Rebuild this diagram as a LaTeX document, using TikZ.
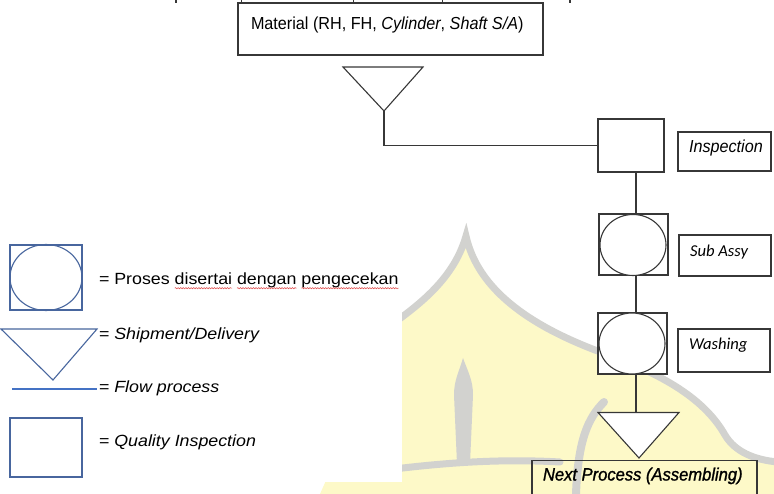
\documentclass[tikz,border=0pt]{standalone}
\usepackage{fontspec}
\setmainfont{Liberation Sans}
\newfontfamily\diagfont[FakeStretch=0.93]{Liberation Sans}
\newfontfamily\diagbold[FakeStretch=0.93,FakeBold=1.2]{Liberation Sans}
\newfontfamily\legfont[FakeStretch=1.1]{Liberation Sans}
\newfontfamily\calfont{Carlito}
\usetikzlibrary{shapes.geometric,decorations.pathmorphing}

\definecolor{wmyellow}{RGB}{253,249,200}
\definecolor{wmgray}{RGB}{210,210,207}
\definecolor{ink}{RGB}{55,55,55}
\definecolor{legblue}{RGB}{72,102,158}
\definecolor{flowblue}{RGB}{68,114,196}
\definecolor{spell}{RGB}{226,86,86}

\tikzset{
  box/.style={draw=ink, line width=1.1pt, fill=white, inner sep=0pt, outer sep=0pt, rectangle},
  openbox/.style={draw=ink, line width=1.1pt, inner sep=0pt, outer sep=0pt, rectangle},
  oval/.style={draw=ink, line width=1.1pt, fill=white, inner sep=0pt, outer sep=0pt, ellipse},
  flow/.style={draw=ink, line width=1.3pt},
  tri/.style={draw=ink, line width=1.1pt, fill=white, line join=miter},
  diagtext/.style={inner sep=0pt, outer sep=0pt, text=black, font=\diagfont\fontsize{17.4}{20}\selectfont},
  caltext/.style={inner sep=0pt, outer sep=0pt, text=black, font=\calfont\itshape\fontsize{16.6}{19}\selectfont},
  legtext/.style={inner sep=0pt, outer sep=0pt, text=black, font=\legfont\fontsize{16.2}{19}\selectfont},
  legbox/.style={draw=legblue, line width=1.1pt, inner sep=0pt, outer sep=0pt, rectangle},
  legoval/.style={draw=legblue, line width=1.1pt, inner sep=0pt, outer sep=0pt, ellipse},
  spellmark/.style={draw=spell, line width=0.6pt, decorate,
    decoration={snake, amplitude=0.6pt, segment length=2.6pt}},
  wmband/.style={draw=wmgray, line width=7pt, line cap=round},
}

\begin{document}
\begin{tikzpicture}[x=1pt,y=-1pt]
\useasboundingbox (0,0) rectangle (774,494);

% faint dome emblem in the background
\fill[wmyellow] (398,318) .. controls (425,300) and (455,275) .. (466,236)
  .. controls (478,290) and (530,325) .. (595,350)
  .. controls (665,374) and (705,400) .. (725,435)
  .. controls (735,452) and (755,460) .. (774,462) -- (774,494) -- (320,494) -- (398,318) -- cycle;
\draw[wmband, line join=miter] (398,320) .. controls (425,300) and (455,275) .. (466,236)
  .. controls (478,290) and (530,325) .. (595,350)
  .. controls (665,374) and (705,400) .. (725,435)
  .. controls (735,452) and (755,460) .. (778,462);
\fill[wmgray] (463,358) .. controls (468,372) and (473,380) .. (473,395) -- (470,464)
  -- (457,464) -- (454,395) .. controls (454,380) and (459,372) .. (463,358) -- cycle;
\draw[wmband] (330,478) .. controls (420,464) and (490,458) .. (560,462);
\draw[wmband, line width=8pt] (604,402) .. controls (588,418) and (578,440) .. (576,494);

% white panel behind the legend
\fill[white] (0,228) rectangle (402,482);

% cut-off marks along the top edge
\draw[ink, line width=0.7pt] (241,0) -- (241,4) (353,0) -- (353,4) (442,0) -- (442,4);
\draw[ink, line width=1.6pt] (176,0) -- (176,3) (570,0) -- (570,3);

% ---------- flow ----------
\node[box, minimum width=305pt, minimum height=52pt] (mat) at (390.5,29) {};
\node[diagtext, anchor=base west] (mattext) at (251,29.3)
  {Material (RH, FH, \textit{Cylinder}, \textit{Shaft S/A})};

\coordinate (t1l) at (343,67);
\coordinate (t1r) at (423,67);
\coordinate (t1tip) at (384,111);
\draw[tri] (t1l) -- (t1r) -- (t1tip) -- cycle;

\node[box, minimum width=66pt, minimum height=53pt] (insp) at (631,145.5) {};
\node[box, minimum width=93pt, minimum height=39pt] (inspL) at (724.5,151.5) {};
\node[diagtext, anchor=base west] (inspT) at (689,152.5) {\itshape Inspection};

\node[box, minimum width=69pt, minimum height=61pt] (sub) at (633.5,244.5) {};
\node[oval, minimum width=66pt, minimum height=61pt] (subO) at (633,245) {};
\node[box, minimum width=92pt, minimum height=41pt] (subL) at (725,255.5) {};
\node[caltext, anchor=base west] (subT) at (690,256.5) {Sub Assy};

\node[box, minimum width=69pt, minimum height=61pt] (wash) at (632.5,343.5) {};
\node[oval, minimum width=66pt, minimum height=61pt] (washO) at (632,343.5) {};
\node[box, minimum width=92pt, minimum height=43pt] (washL) at (724,350.5) {};
\node[caltext, anchor=base west] (washT) at (689,350) {Washing};

\coordinate (t2l) at (598,412.5);
\coordinate (t2r) at (679,412.5);
\coordinate (t2tip) at (639,458);
\draw[tri] (t2l) -- (t2r) -- (t2tip) -- cycle;

\node[openbox, minimum width=225pt, minimum height=60pt] (next) at (644.5,490.5) {};
\node[inner sep=0pt, outer sep=0pt, anchor=base west, font=\diagbold\itshape\fontsize{17.8}{20}\selectfont] (nextT)
  at (543,480.5) {Next Process (Assembling)};

% connectors
\coordinate (spine) at (636,0);
\draw[flow] (t1tip) |- (insp.west);
\draw[flow] (insp.south -| spine) -- (sub.north -| spine);
\draw[flow] (sub.south -| spine) -- (wash.north -| spine);
\draw[flow] (wash.south -| spine) -- (t2l -| spine);

% ---------- legend ----------
\node[legbox, minimum width=72pt, minimum height=65pt] (lg1) at (46,277.5) {};
\node[legoval, minimum width=72pt, minimum height=66pt] (lg1o) at (46,277.5) {};
\node[legtext, anchor=base west] (lt1) at (99,285) {= Proses};
\node[legtext, anchor=base west] (lw1) at ([xshift=4.9pt]lt1.base east) {disertai};
\node[legtext, anchor=base west] (lw2) at ([xshift=4.9pt]lw1.base east) {dengan};
\node[legtext, anchor=base west] (lw3) at ([xshift=4.9pt]lw2.base east) {pengecekan};
\draw[spellmark] ([yshift=-3.2pt]lw1.base west) -- ([yshift=-3.2pt]lw1.base east);
\draw[spellmark] ([yshift=-3.2pt]lw2.base west) -- ([yshift=-3.2pt]lw2.base east);
\draw[spellmark] ([yshift=-3.2pt]lw3.base west) -- ([yshift=-3.2pt]lw3.base east);

\coordinate (lgtl) at (1,329);
\coordinate (lgtr) at (97,329);
\coordinate (lgtip) at (53,380);
\draw[draw=legblue, line width=1.1pt] (lgtl) -- (lgtr) -- (lgtip) -- cycle;
\node[legtext, anchor=base west] (lt2) at (99,340) {= \itshape Shipment/Delivery};

\coordinate (lfa) at (12,389);
\coordinate (lfb) at (97,389);
\draw[draw=flowblue, line width=2.8pt] (lfa) -- (lfb);
\node[legtext, anchor=base west] (lt3) at (99,392) {= \itshape Flow process};

\node[legbox, minimum width=72pt, minimum height=59pt] (lg4) at (46,447.5) {};
\node[legtext, anchor=base west] (lt4) at (99,446.5) {= \itshape Quality Inspection};
\end{tikzpicture}
\end{document}
